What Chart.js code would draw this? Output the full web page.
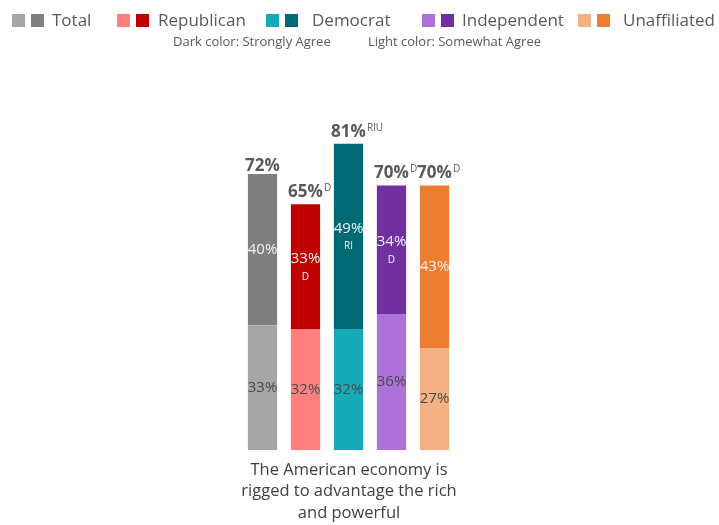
<!DOCTYPE html>
<html>
<head>
<meta charset="utf-8">
<script src="https://cdn.jsdelivr.net/npm/chart.js@4.4.1/dist/chart.umd.min.js"></script>
<style>
  html, body { margin: 0; padding: 0; background: #fff; }
  #wrap { width: 719px; height: 525px; position: relative; }
</style>
</head>
<body>
<div id="wrap"><canvas id="rigged" width="719" height="525"></canvas></div>
<script>
// groups and poll values (percent agreeing)
const groups = ['Total', 'Republican', 'Democrat', 'Independent', 'Unaffiliated'];
const somewhatAgree = [33, 32, 32, 36, 27];
const stronglyAgree = [40, 33, 49, 34, 43];
const totalAgree = [72, 65, 81, 70, 70];
// significance letters next to the totals and under the strong values
const totalNotes = ['', 'D', 'RIU', 'D', 'D'];
const strongNotes = ['', 'D', 'RI', 'D', ''];
const caption = ['The American economy is', 'rigged to advantage the rich', 'and powerful'];

const lightColors = ['#a6a6a6', '#ff7f7f', '#16a9b8', '#ad72da', '#f4b183'];
const darkColors = ['#7f7f7f', '#c00000', '#006a74', '#7030a0', '#ed7d31'];

const FONT = '"Open Sans", sans-serif';
const GREY = '#595959';

// legend, subtitle, value labels and caption drawn on the canvas
const decorations = {
  id: 'decorations',
  afterDatasetsDraw(chart) {
    const ctx = chart.ctx;
    ctx.save();

    // legend row
    const swatchX = [12, 117, 266, 422, 578];
    const textX = [52, 158, 312, 462, 623];
    ctx.font = '17px ' + FONT;
    ctx.textBaseline = 'middle';
    ctx.textAlign = 'left';
    groups.forEach((g, i) => {
      const x = swatchX[i];
      ctx.fillStyle = lightColors[i];
      ctx.fillRect(x, 14, 13, 13);
      ctx.fillStyle = darkColors[i];
      ctx.fillRect(x + 19, 14, 13, 13);
      ctx.fillStyle = GREY;
      ctx.fillText(g, textX[i], 21);
    });

    ctx.font = '13px ' + FONT;
    ctx.textAlign = 'left';
    ctx.fillText('Dark color: Strongly Agree', 173, 42);
    ctx.textAlign = 'right';
    ctx.fillText('Light color: Somewhat Agree', 541, 42);

    const light = chart.getDatasetMeta(0).data;
    const dark = chart.getDatasetMeta(1).data;

    groups.forEach((g, i) => {
      // somewhat agree value, middle of the light segment
      const lb = light[i];
      ctx.font = '15px ' + FONT;
      ctx.fillStyle = '#4a4a4a';
      ctx.textAlign = 'center';
      ctx.fillText(somewhatAgree[i] + '%', lb.x, (lb.y + lb.base) / 2);

      // strongly agree value, middle of the dark segment
      const db = dark[i];
      const mid = (db.y + db.base) / 2;
      ctx.fillStyle = '#f2f2f2';
      if (strongNotes[i]) {
        ctx.font = '15px ' + FONT;
        ctx.fillText(stronglyAgree[i] + '%', db.x, mid - 8);
        ctx.font = '10px ' + FONT;
        ctx.fillText(strongNotes[i], db.x, mid + 10);
      } else {
        ctx.font = '15px ' + FONT;
        ctx.fillText(stronglyAgree[i] + '%', db.x, mid);
      }

      // total above the bar, with superscript note
      const topY = chart.scales.y.getPixelForValue(totalAgree[i]) - 12;
      const label = totalAgree[i] + '%';
      ctx.font = 'bold 17px ' + FONT;
      const w = ctx.measureText(label).width;
      const start = db.x - w / 2;
      ctx.fillStyle = GREY;
      ctx.textAlign = 'left';
      ctx.fillText(label, start, topY);
      if (totalNotes[i]) {
        ctx.font = '10px ' + FONT;
        ctx.fillText(totalNotes[i], start + w + 1, topY - 4);
      }
    });

    // caption under the bars
    ctx.font = '16.5px ' + FONT;
    ctx.fillStyle = '#404040';
    ctx.textAlign = 'center';
    caption.forEach((line, k) => {
      ctx.fillText(line, 349, 470 + k * 21.5);
    });

    ctx.restore();
  }
};

new Chart(document.getElementById('rigged').getContext('2d'), {
  type: 'bar',
  data: {
    labels: groups,
    datasets: [
      {
        label: 'Somewhat Agree',
        data: somewhatAgree,
        backgroundColor: lightColors,
        barPercentage: 0.68,
        categoryPercentage: 1.0
      },
      {
        label: 'Strongly Agree',
        data: stronglyAgree,
        backgroundColor: darkColors,
        barPercentage: 0.68,
        categoryPercentage: 1.0
      }
    ]
  },
  options: {
    responsive: false,
    animation: false,
    layout: { padding: { left: 241, right: 263, top: 72, bottom: 75 } },
    plugins: {
      legend: { display: false },
      tooltip: { enabled: false }
    },
    scales: {
      x: { stacked: true, display: false },
      y: { stacked: true, display: false, min: 0, max: 100 }
    }
  },
  plugins: [decorations]
});
</script>
</body>
</html>
